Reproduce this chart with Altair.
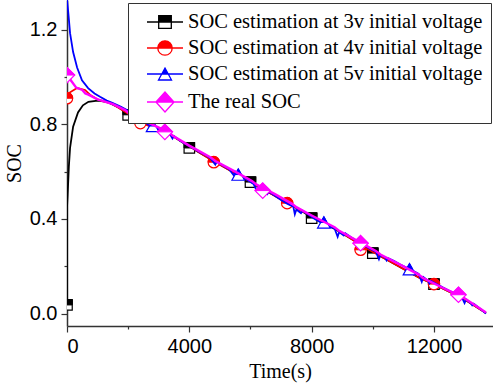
import altair as alt
import pandas as pd

SERIES = ["SOC estimation at 3v initial voltage",
          "SOC estimation at 4v initial voltage",
          "SOC estimation at 5v initial voltage",
          "The real SOC"]
COLORS = ["#000000", "#ff0000", "#0000ff", "#ff00ff"]

# ---- curves ----
t_3v = [0, 0, 20, 40, 60, 100, 200, 360, 520, 700, 1000, 1300, 1700, 2000, 3400, 4000, 4800,
        6000, 7400, 8000, 8800, 10000, 10150, 11550, 12000, 12900, 13700]
soc_3v = [0.04, 0.45, 0.50, 0.56, 0.62, 0.70, 0.79, 0.85, 0.88, 0.895, 0.90, 0.895, 0.87, 0.845,
          0.755, 0.705, 0.645, 0.555, 0.455, 0.408, 0.355, 0.262, 0.25, 0.15, 0.125, 0.068, 0.003]

t_4v = [0, 100, 330, 590, 750, 1000, 1500, 2000, 2400, 3400, 4800, 6100, 7200, 8800, 9600,
        10150, 11550, 12000, 12900, 13700]
soc_4v = [0.91, 0.935, 0.953, 0.945, 0.925, 0.905, 0.885, 0.845, 0.808, 0.755, 0.643, 0.55,
          0.467, 0.358, 0.29, 0.25, 0.15, 0.125, 0.068, 0.003]

t_5v = [0, 50, 100, 200, 330, 490, 690, 900, 1080, 1300, 1500, 1750, 1960, 2100, 2300, 2500,
        2700, 2900, 3100, 3350, 3450, 3500, 3700, 3900, 4100, 4300, 4500, 4700, 4850, 4900,
        5100, 5300, 5450, 5500, 5700, 5900, 6100, 6200, 6250, 6400, 6550, 6600, 6800, 7000,
        7200, 7400, 7450, 7500, 7650, 7700, 7900, 8100, 8300, 8500, 8750, 8850, 8900, 9050,
        9100, 9300, 9500, 9700, 9900, 10100, 10200, 10250, 10400, 10450, 10500, 10700, 10900,
        11100, 11300, 11500, 11600, 11650, 11800, 11850, 11900, 12100, 12300, 12500, 12700,
        12900, 13000, 13050, 13200, 13250, 13300, 13500, 13700]
soc_5v = [1.33, 1.26, 1.185, 1.105, 1.04, 0.986, 0.953, 0.93, 0.916, 0.90, 0.89, 0.875, 0.86,
          0.845, 0.83, 0.812, 0.795, 0.785, 0.775, 0.762, 0.74, 0.75, 0.73, 0.715, 0.70, 0.685,
          0.672, 0.655, 0.63, 0.642, 0.625, 0.61, 0.585, 0.60, 0.585, 0.565, 0.548, 0.52, 0.535,
          0.522, 0.505, 0.515, 0.498, 0.48, 0.465, 0.452, 0.42, 0.44, 0.425, 0.435, 0.418, 0.40,
          0.385, 0.372, 0.36, 0.325, 0.345, 0.33, 0.34, 0.322, 0.305, 0.29, 0.275, 0.262, 0.23,
          0.248, 0.238, 0.225, 0.235, 0.222, 0.208, 0.195, 0.182, 0.168, 0.135, 0.155, 0.14,
          0.128, 0.138, 0.124, 0.11, 0.097, 0.085, 0.072, 0.045, 0.06, 0.045, 0.035, 0.042,
          0.022, 0.0]

t_real = [0, 100, 300, 500, 600, 700, 1000, 1500, 1900, 2050, 2600, 3350, 3450, 4000, 4700,
          4850, 5500, 6050, 6200, 6800, 7350, 7500, 8000, 8750, 8900, 9600, 10100, 10250, 11000,
          11500, 11650, 12200, 12850, 13000, 13700]
soc_real = [1.01, 0.99, 0.955, 0.945, 0.93, 0.925, 0.905, 0.885, 0.86, 0.845, 0.81, 0.765,
            0.752, 0.71, 0.66, 0.645, 0.60, 0.56, 0.545, 0.505, 0.465, 0.45, 0.415, 0.365, 0.35,
            0.30, 0.265, 0.25, 0.20, 0.165, 0.15, 0.115, 0.075, 0.065, 0.005]

# ---- markers ----
mt_3v = [0, 2000, 4000, 6000, 8000, 10000, 12000]
ms_3v = [0.037, 0.84, 0.70, 0.556, 0.404, 0.256, 0.125]
mt_4v = [0, 2400, 4800, 7200, 9600, 12000]
ms_4v = [0.91, 0.805, 0.64, 0.467, 0.27, 0.125]
mt_5v = [2800, 5600, 8400, 11200]
ms_5v = [0.79, 0.585, 0.383, 0.185]
mt_real = [0, 3200, 6400, 9600, 12800]
ms_real = [1.008, 0.768, 0.52, 0.298, 0.08]

curves = [(t_3v, soc_3v), (t_4v, soc_4v), (t_5v, soc_5v), (t_real, soc_real)]
markers = [(mt_3v, ms_3v), (mt_4v, ms_4v), (mt_5v, ms_5v), (mt_real, ms_real)]

FULL = ["M-1,-1 L1,-1 L1,1 L-1,1 Z",
        "M-1,0 A1,1 0 1,1 1,0 A1,1 0 1,1 -1,0 Z",
        "M0,-1 L1,0.8 L-1,0.8 Z",
        "M0,-1 L1,0 L0,1 L-1,0 Z"]
TOP = ["M-1,-1 L1,-1 L1,0 L-1,0 Z",
       "M-1,0 A1,1 0 0,1 1,0 Z",
       "M0,-1 L0.5,-0.1 L-0.5,-0.1 Z",
       "M-1,0 L0,-1 L1,0 Z"]
SIZES = [110, 130, 160, 240]

LEG = ["M-1.8,0 L1.8,0 M-0.63,-0.63 L0.63,-0.63 L0.63,0 L-0.63,0 Z "
       "M-0.63,0 L-0.63,0.63 L0.63,0.63 L0.63,0 L0.63,0.63 L-0.63,0.63 Z",
       "M-1.8,0 L1.8,0 M-0.72,0 A0.72,0.72 0 0,1 0.72,0 Z "
       "M-0.72,0 A0.72,0.72 0 0,0 0.72,0 A0.72,0.72 0 0,1 -0.72,0",
       "M-1.8,0 L1.8,0 M0,-0.6 L0.325,0 L-0.325,0 Z "
       "M-0.325,0 L-0.65,0.6 L0.65,0.6 L0.325,0 L0.65,0.6 L-0.65,0.6 Z",
       "M-1.8,0 L1.8,0 M-0.9,0 L0,-1 L0.9,0 Z M-0.9,0 L0,1 L0.9,0 L0,1 Z"]

XMAX = 13930
x_enc = alt.X("t:Q", scale=alt.Scale(domain=[0, XMAX], nice=False, zero=False),
              axis=alt.Axis(values=list(range(0, 13000, 2000)), format="d",
                            labelExpr="datum.value % 4000 === 0 ? datum.label : ''",
                            tickSize={"condition": {"test": "datum.value % 4000 === 0", "value": 6}, "value": 3},
                            title="Time(s)"))
y_enc = alt.Y("soc:Q", scale=alt.Scale(domain=[-0.052, 1.325], nice=False, zero=False),
              axis=alt.Axis(values=[0, 0.2, 0.4, 0.6, 0.8, 1.0, 1.2], format=".1f",
                            labelExpr="(round(datum.value*10) % 4 === 0) ? datum.label : ''",
                            tickSize={"condition": {"test": "round(datum.value*10) % 4 === 0", "value": 6}, "value": 3},
                            title="SOC"))

layers = []
for k in range(4):
    t, v = curves[k]
    df = pd.DataFrame({"t": t, "soc": v, "i": list(range(len(t)))})
    layers.append(alt.Chart(df).mark_line(clip=True, color=COLORS[k],
                                          strokeWidth=2.4 if k == 3 else 1.8)
                  .encode(x=x_enc, y=y_enc, order="i:Q"))
    mt, ms = markers[k]
    mdf = pd.DataFrame({"t": mt, "soc": ms})
    layers.append(alt.Chart(mdf).mark_point(clip=True, shape=FULL[k], size=SIZES[k], filled=True,
                                            fill="white", stroke=COLORS[k], strokeWidth=1.2, opacity=1)
                  .encode(x="t:Q", y="soc:Q"))
    layers.append(alt.Chart(mdf).mark_point(clip=True, shape=TOP[k], size=SIZES[k], filled=True,
                                            fill=COLORS[k], stroke=COLORS[k], strokeWidth=1.0, opacity=1)
                  .encode(x="t:Q", y="soc:Q"))

leg_df = pd.DataFrame({"series": SERIES, "t": [mt_3v[1], mt_4v[1], mt_5v[0], mt_real[1]],
                       "soc": [ms_3v[1], ms_4v[1], ms_5v[0], ms_real[1]]})
legend = alt.Legend(title=None, orient="none", legendX=61, legendY=3, padding=8,
                    strokeColor="#333333", fillColor="white",
                    labelFont="Liberation Serif", labelFontSize=20.5, labelColor="black",
                    labelLimit=500, symbolSize=400, symbolStrokeWidth=1.3, symbolOpacity=1,
                    symbolOffset=18, labelOffset=12, rowPadding=4)
layers.append(alt.Chart(leg_df).mark_point(filled=True, opacity=0)
              .encode(x="t:Q", y="soc:Q",
                      fill=alt.Fill("series:N", scale=alt.Scale(domain=SERIES, range=COLORS), legend=legend),
                      stroke=alt.Stroke("series:N", scale=alt.Scale(domain=SERIES, range=COLORS), legend=legend),
                      shape=alt.Shape("series:N", scale=alt.Scale(domain=SERIES, range=LEG), legend=legend)))

chart = alt.layer(*layers).properties(
    width=426, height=326,
    autosize=alt.AutoSizeParams(type="none"),
    padding={"left": 67, "top": 0, "right": 0, "bottom": 61},
).configure_view(stroke=None).configure_axis(
    grid=False, domainColor="#333333", domainWidth=1.5, tickColor="#333333", tickWidth=1.2,
    labelFont="Liberation Sans", labelFontSize=20, labelColor="black", labelPadding=4,
    titleFont="Liberation Serif", titleFontSize=20, titleFontWeight="normal", titleColor="black",
).configure_axisY(titlePadding=5).configure_axisX(titlePadding=5)

chart.save("out.html", embed_options={"renderer": "svg", "actions": False})
